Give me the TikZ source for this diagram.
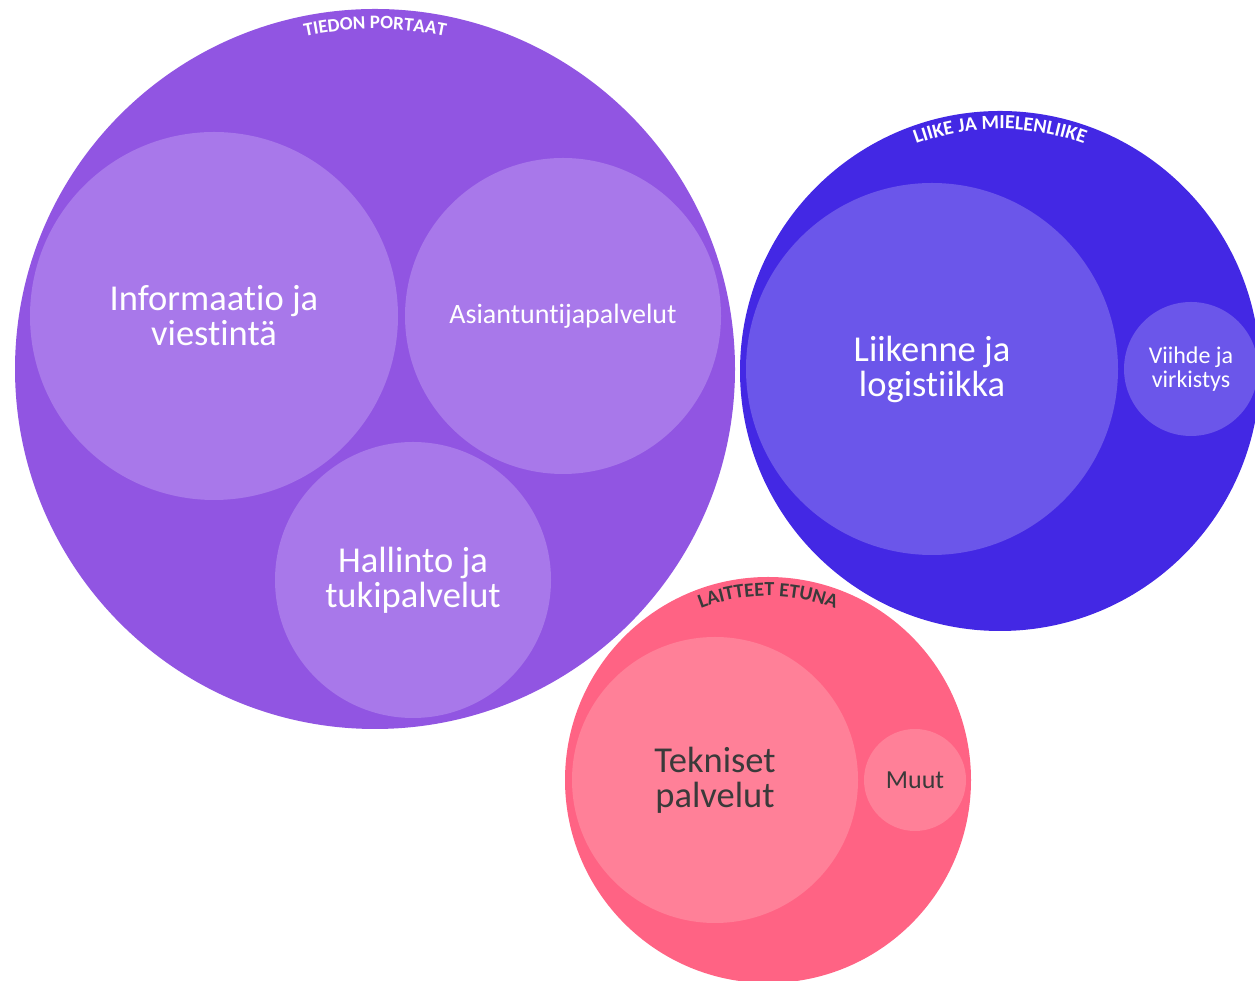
\documentclass[tikz,border=0pt]{standalone}
\usepackage{fontspec}
\setmainfont[Ligatures={NoCommon}]{Carlito}
\usetikzlibrary{decorations.text}
\definecolor{pbig}{HTML}{9155E2}
\definecolor{psmall}{HTML}{A878EA}
\definecolor{bbig}{HTML}{4328E4}
\definecolor{bsmall}{HTML}{6B56EA}
\definecolor{rbig}{HTML}{FF6384}
\definecolor{rsmall}{HTML}{FF8098}
\definecolor{darktxt}{HTML}{3A3A3A}
\tikzset{
  bubble/.style={circle, inner sep=0pt, minimum size=#1, align=center},
  lbl/.style={font=\fontsize{36.5}{35}\selectfont},
}
\begin{document}
\begin{tikzpicture}[x=1pt,y=1pt]
\useasboundingbox (0,0) rectangle (1255,981);
\begin{scope}
\clip (0,0) rectangle (1255,981);
% purple group
\node[bubble=720, fill=pbig] (tp) at (375,612) {};
\node[bubble=368, fill=psmall, text=white, lbl] (info) at (214,665) {Informaatio ja\\viestintä};
\node[bubble=316, fill=psmall, text=white, font=\fontsize{28}{30}\selectfont] (asi) at (563,665) {Asiantuntijapalvelut};
\node[bubble=276, fill=psmall, text=white, lbl] (hal) at (413,401) {Hallinto ja\\tukipalvelut};
% blue group
\node[bubble=520, fill=bbig] (lm) at (1000,610) {};
\node[bubble=372, fill=bsmall, text=white, lbl] (lii) at (932,612) {Liikenne ja\\logistiikka};
\node[bubble=134, fill=bsmall, text=white, font=\fontsize{24}{24}\selectfont] (vii) at (1191,612) {Viihde ja\\virkistys};
% pink group
\node[bubble=406, fill=rbig] (le) at (768,201) {};
\node[bubble=286, fill=rsmall, text=darktxt, lbl] (tek) at (715,201) {Tekniset\\palvelut};
\node[bubble=102, fill=rsmall, text=darktxt, font=\fontsize{26}{26}\selectfont] (muu) at (915,201) {Muut};
\end{scope}
% curved titles
\path[decorate, decoration={text along path, text align=center, text color=white,
  text={|\bfseries\fontsize{19}{19}\selectfont|TIEDON PORTAAT}}]
  (tp.center) ++(105:340) arc (105:75:340);
\path[decorate, decoration={text along path, text align=center, text color=white,
  text={|\bfseries\fontsize{20}{20}\selectfont|LIIKE JA MIELENLIIKE}}]
  (lm.center) ++(120:242) arc (120:60:242);
\path[decorate, decoration={text along path, text align=center, text color=darktxt,
  text={|\bfseries\fontsize{20}{20}\selectfont|LAITTEET ETUNA}}]
  (le.center) ++(120:184) arc (120:60:184);
\end{tikzpicture}
\end{document}
